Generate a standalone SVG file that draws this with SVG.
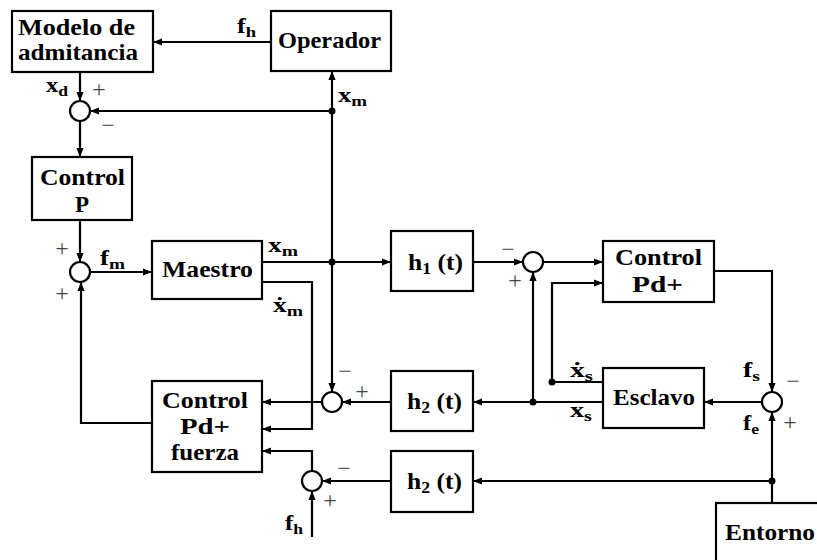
<svg xmlns="http://www.w3.org/2000/svg" width="817" height="560" viewBox="0 0 817 560">
<defs>
<marker id="ah" viewBox="0 0 10 8" refX="10" refY="4" markerWidth="9" markerHeight="8" markerUnits="userSpaceOnUse" orient="auto"><path d="M0,0 L10,4 L0,8 z" fill="#000"/></marker>
<style>
.b{fill:#fff;stroke:#000;stroke-width:2.2}
.w{fill:none;stroke:#000;stroke-width:2.2}
.a{marker-end:url(#ah)}
.d{fill:#000}
.t{font-family:"Liberation Serif","DejaVu Serif",serif;font-weight:bold;font-size:23px;fill:#000}
.s{font-family:"Liberation Serif","DejaVu Serif",serif;font-weight:bold;font-size:21px;fill:#000}
.p{font-family:"Liberation Serif","DejaVu Serif",serif;font-size:24px;fill:#444;text-anchor:middle}
</style>
</defs>
<rect width="817" height="560" fill="#fff"/>

<g id="connectors">
<path class="w a" d="M271,42 L153,42"/>
<path class="w a" d="M80,72 L80,101"/>
<path class="w a" d="M332,111 L90,111"/>
<path class="w a" d="M80,121 L80,157"/>
<path class="w a" d="M80,220 L80,262"/>
<path class="w a" d="M90,272 L152,272"/>
<path class="w a" d="M262,262 L391,262"/>
<path class="w a" d="M332,262 L332,71"/>
<path class="w a" d="M332,262 L332,392"/>
<path class="w a" d="M262,282 L312,282 L312,429 L262,429"/>
<path class="w a" d="M322,402 L262,402"/>
<path class="w a" d="M391,402 L342,402"/>
<path class="w a" d="M603,402 L473,402"/>
<path class="w a" d="M533,402 L533,272"/>
<path class="w a" d="M473,262 L523,262"/>
<path class="w a" d="M543,262 L603,262"/>
<path class="w a" d="M603,382 L552,382 L552,283 L603,283"/>
<path class="w a" d="M714,271 L772,271 L772,392"/>
<path class="w a" d="M762,402 L704,402"/>
<path class="w a" d="M772,503 L772,412"/>
<path class="w a" d="M772,481 L473,481"/>
<path class="w a" d="M391,481 L322,481"/>
<path class="w a" d="M312,471 L312,451 L262,451"/>
<path class="w a" d="M312,537 L312,491"/>
<path class="w a" d="M152,423 L81,423 L81,282"/>
<circle class="d" cx="332" cy="111" r="3.5"/>
<circle class="d" cx="332" cy="262" r="3.5"/>
<circle class="d" cx="533" cy="402" r="3.5"/>
<circle class="d" cx="552" cy="382" r="3.5"/>
<circle class="d" cx="772" cy="481" r="3.5"/>
</g>

<g id="modelo"><rect class="b" x="12" y="11" width="141" height="61"/>
<text class="t" x="18" y="35" textLength="117" lengthAdjust="spacingAndGlyphs">Modelo de</text>
<text class="t" x="18" y="60" textLength="120" lengthAdjust="spacingAndGlyphs">admitancia</text></g>
<g id="operador"><rect class="b" x="271" y="11" width="120" height="60"/>
<text class="t" x="278" y="48" textLength="103" lengthAdjust="spacingAndGlyphs">Operador</text></g>
<g id="controlP"><rect class="b" x="32" y="157" width="100" height="63"/>
<text class="t" x="40" y="185" textLength="85" lengthAdjust="spacingAndGlyphs">Control</text>
<text class="t" x="82" y="212" text-anchor="middle">P</text></g>
<g id="maestro"><rect class="b" x="152" y="241" width="110" height="58"/>
<text class="t" x="162" y="277" textLength="91" lengthAdjust="spacingAndGlyphs">Maestro</text></g>
<g id="h1"><rect class="b" x="391" y="231" width="82" height="60"/>
<text class="t" x="408" y="270" textLength="55" lengthAdjust="spacingAndGlyphs">h<tspan font-size="16" dy="4">1</tspan><tspan dy="-4"> (t)</tspan></text></g>
<g id="controlPd"><rect class="b" x="603" y="241" width="111" height="61"/>
<text class="t" x="615" y="265" textLength="87" lengthAdjust="spacingAndGlyphs">Control</text>
<text class="t" x="632" y="292" textLength="51" lengthAdjust="spacingAndGlyphs">Pd+</text></g>
<g id="esclavo"><rect class="b" x="603" y="368" width="101" height="60"/>
<text class="t" x="613" y="405" textLength="82" lengthAdjust="spacingAndGlyphs">Esclavo</text></g>
<g id="controlPdF"><rect class="b" x="152" y="381" width="110" height="91"/>
<text class="t" x="162" y="408" textLength="86" lengthAdjust="spacingAndGlyphs">Control</text>
<text class="t" x="180" y="434" textLength="50" lengthAdjust="spacingAndGlyphs">Pd+</text>
<text class="t" x="171" y="460" textLength="68" lengthAdjust="spacingAndGlyphs">fuerza</text></g>
<g id="h2a"><rect class="b" x="391" y="371" width="82" height="60"/>
<text class="t" x="407" y="409" textLength="55" lengthAdjust="spacingAndGlyphs">h<tspan font-size="16" dy="4">2</tspan><tspan dy="-4"> (t)</tspan></text></g>
<g id="h2b"><rect class="b" x="391" y="451" width="82" height="61"/>
<text class="t" x="407" y="489" textLength="55" lengthAdjust="spacingAndGlyphs">h<tspan font-size="16" dy="4">2</tspan><tspan dy="-4"> (t)</tspan></text></g>
<g id="entorno"><rect class="b" x="716" y="503" width="130" height="80"/>
<text class="t" x="725" y="540" textLength="90" lengthAdjust="spacingAndGlyphs">Entorno</text></g>

<g id="sum1"><circle class="b" cx="80" cy="111" r="10"/></g>
<g id="sum2"><circle class="b" cx="80" cy="272" r="10"/></g>
<g id="sum3"><circle class="b" cx="533" cy="262" r="10"/></g>
<g id="sum4"><circle class="b" cx="332" cy="402" r="10"/></g>
<g id="sum5"><circle class="b" cx="772" cy="402" r="10"/></g>
<g id="sum6"><circle class="b" cx="312" cy="481" r="10"/></g>

<g id="labels">
<text class="s" x="237" y="33" textLength="19" lengthAdjust="spacingAndGlyphs">f<tspan font-size="15" dy="4">h</tspan></text>
<text class="s" x="46" y="92" textLength="22" lengthAdjust="spacingAndGlyphs">x<tspan font-size="15" dy="4">d</tspan></text>
<text class="s" x="338" y="102" textLength="29" lengthAdjust="spacingAndGlyphs">x<tspan font-size="15" dy="4">m</tspan></text>
<text class="s" x="100" y="265" textLength="25" lengthAdjust="spacingAndGlyphs">f<tspan font-size="15" dy="4">m</tspan></text>
<text class="s" x="268" y="252" textLength="30" lengthAdjust="spacingAndGlyphs">x<tspan font-size="15" dy="4">m</tspan></text>
<text class="s" x="273" y="312" textLength="30" lengthAdjust="spacingAndGlyphs">ẋ<tspan font-size="15" dy="4">m</tspan></text>
<text class="s" x="743" y="377" textLength="17" lengthAdjust="spacingAndGlyphs">f<tspan font-size="15" dy="4">s</tspan></text>
<text class="s" x="570" y="377" textLength="23" lengthAdjust="spacingAndGlyphs">ẋ<tspan font-size="15" dy="4">s</tspan></text>
<text class="s" x="570" y="417" textLength="22" lengthAdjust="spacingAndGlyphs">x<tspan font-size="15" dy="4">s</tspan></text>
<text class="s" x="743" y="430" textLength="16" lengthAdjust="spacingAndGlyphs">f<tspan font-size="15" dy="4">e</tspan></text>
<text class="s" x="285" y="530" textLength="18" lengthAdjust="spacingAndGlyphs">f<tspan font-size="15" dy="4">h</tspan></text>
<text class="p" x="99" y="97">+</text>
<text class="p" x="62" y="256">+</text>
<text class="p" x="62" y="301">+</text>
<text class="p" x="515" y="288">+</text>
<text class="p" x="362" y="399">+</text>
<text class="p" x="330" y="508">+</text>
<text class="p" x="790" y="430">+</text>
<text class="p" x="108" y="133">−</text>
<text class="p" x="508" y="257">−</text>
<text class="p" x="345" y="379">−</text>
<text class="p" x="344" y="476">−</text>
<text class="p" x="793" y="389">−</text>
</g>
</svg>
